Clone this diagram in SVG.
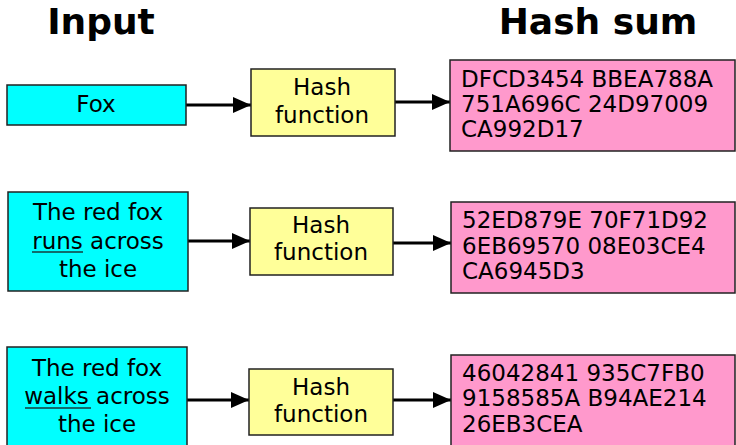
<svg xmlns="http://www.w3.org/2000/svg" width="736" height="445" viewBox="0 0 736 445">
<style>
text{font-family:"DejaVu Sans","Liberation Sans",sans-serif;fill:#000}
.title{font-size:36px;font-weight:bold;text-anchor:middle}
.t{font-size:23px}
.h{font-size:23px}
.c{text-anchor:middle}
.in{fill:#00ffff;stroke:#222;stroke-width:1.5}
.hf{fill:#ffff99;stroke:#222;stroke-width:1.5}
.out{fill:#ff99cc;stroke:#222;stroke-width:1.5}
.ar{stroke:#000;stroke-width:3;fill:none;marker-end:url(#ah)}
.ul{stroke:#143c3c;stroke-width:1.5}
</style>
<defs>
<marker id="ah" markerUnits="userSpaceOnUse" markerWidth="20" markerHeight="18" refX="18" refY="8" orient="auto">
<path d="M0,0 L18,8 L0,16 Z" fill="#000"/>
</marker>
</defs>
<rect width="736" height="445" fill="#fff"/>
<text class="title" x="101" y="34">Input</text>
<text class="title" x="598" y="34">Hash sum</text>
<g id="connectors">
<line class="ar" x1="186" y1="105" x2="251" y2="105"/>
<line class="ar" x1="395" y1="102" x2="450" y2="102"/>
<line class="ar" x1="188" y1="241" x2="250" y2="241"/>
<line class="ar" x1="393" y1="243" x2="451" y2="243"/>
<line class="ar" x1="187" y1="400" x2="249" y2="400"/>
<line class="ar" x1="393" y1="400" x2="451" y2="400"/>
</g>
<g id="input1">
<rect class="in" x="7" y="85" width="179" height="40"/>
<text class="t c" x="96" y="112">Fox</text>
</g>
<g id="hash1">
<rect class="hf" x="251" y="69" width="144" height="67"/>
<text class="t c" x="322" y="95">Hash</text>
<text class="t c" x="322" y="123">function</text>
</g>
<g id="sum1">
<rect class="out" x="450" y="60" width="285" height="91"/>
<text class="h" x="461" y="87">DFCD3454 BBEA788A</text>
<text class="h" x="461" y="112">751A696C 24D97009</text>
<text class="h" x="461" y="137">CA992D17</text>
</g>
<g id="input2">
<rect class="in" x="8" y="192" width="180" height="99"/>
<text class="t c" x="98" y="220">The red fox</text>
<text class="t c" x="98" y="249">runs across</text>
<text class="t c" x="98" y="277">the ice</text>
<line class="ul" x1="32" y1="252" x2="83" y2="252"/>
</g>
<g id="hash2">
<rect class="hf" x="250" y="208" width="143" height="67"/>
<text class="t c" x="321" y="233">Hash</text>
<text class="t c" x="321" y="260">function</text>
</g>
<g id="sum2">
<rect class="out" x="451" y="202" width="284" height="91"/>
<text class="h" x="462" y="228">52ED879E 70F71D92</text>
<text class="h" x="462" y="254">6EB69570 08E03CE4</text>
<text class="h" x="462" y="279">CA6945D3</text>
</g>
<g id="input3">
<rect class="in" x="7" y="347" width="180" height="110"/>
<text class="t c" x="97" y="376">The red fox</text>
<text class="t c" x="97" y="404">walks across</text>
<text class="t c" x="97" y="432">the ice</text>
<line class="ul" x1="25" y1="408" x2="91" y2="408"/>
</g>
<g id="hash3">
<rect class="hf" x="249" y="369" width="144" height="66"/>
<text class="t c" x="321" y="395">Hash</text>
<text class="t c" x="321" y="422">function</text>
</g>
<g id="sum3">
<rect class="out" x="451" y="355" width="284" height="100"/>
<text class="h" x="462" y="381">46042841 935C7FB0</text>
<text class="h" x="462" y="406">9158585A B94AE214</text>
<text class="h" x="462" y="432">26EB3CEA</text>
</g>
</svg>
